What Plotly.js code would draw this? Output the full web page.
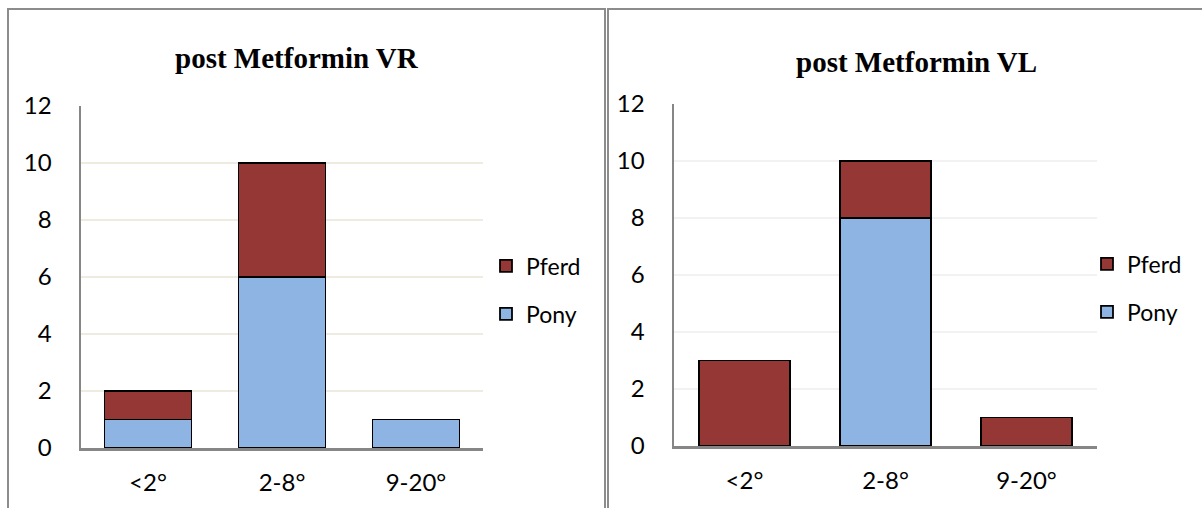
<!DOCTYPE html>
<html>
<head>
<meta charset="utf-8">
<script src="https://cdn.plot.ly/plotly-3.0.1.min.js"></script>
<style>
  html, body { margin: 0; padding: 0; background: #ffffff; }
  #chart { width: 1202px; height: 508px; }
</style>
</head>
<body>
<div id="chart"></div>
<script>
// Categories (angle classes) shared by both panels
const categories = ['<2°', '2-8°', '9-20°'];

// Panel VR
const vrPony  = [1, 6, 1];
const vrPferd = [1, 4, 0];

// Panel VL
const vlPony  = [0, 8, 0];
const vlPferd = [3, 2, 1];

const yTicks = [0, 2, 4, 6, 8, 10, 12];

const ponyColor  = '#8EB4E3';
const pferdColor = '#953735';
const barLine = { color: '#000000', width: 1.8 };
const tickFont = { family: 'Lato, "Open Sans", sans-serif', size: 24, color: '#000000' };

function bar(name, y, color, xa, ya, legend, rank) {
  return {
    type: 'bar', name: name, x: categories, y: y,
    xaxis: xa, yaxis: ya, legend: legend, legendrank: rank,
    legendgroup: name + '_' + legend,
    marker: { color: color, line: barLine },
    hoverinfo: 'x+y+name'
  };
}

const data = [
  bar('Pony',  vrPony,  ponyColor,  'x',  'y',  'legend',  2),
  bar('Pferd', vrPferd, pferdColor, 'x',  'y',  'legend',  1),
  bar('Pony',  vlPony,  ponyColor,  'x2', 'y2', 'legend2', 2),
  bar('Pferd', vlPferd, pferdColor, 'x2', 'y2', 'legend2', 1)
];

function xAxis(domain, anchor) {
  return {
    domain: domain, anchor: anchor, type: 'category',
    showline: true, linecolor: '#868686', linewidth: 2.5,
    ticks: '', tickfont: tickFont, ticklabelstandoff: 12,
    showgrid: false, zeroline: false, fixedrange: true
  };
}
function yAxis(domain, anchor, gridColor) {
  return {
    domain: domain, anchor: anchor, range: [0, 12],
    tickvals: yTicks, ticktext: yTicks.map(String),
    showline: true, linecolor: '#868686', linewidth: 2.5,
    ticks: '', tickfont: tickFont, ticklabelstandoff: 22,
    showgrid: true, gridcolor: gridColor, gridwidth: 1.5,
    zeroline: false, fixedrange: true
  };
}

const legendStyle = {
  font: { family: 'Lato, "Open Sans", sans-serif', size: 23, color: '#000000' },
  bgcolor: 'rgba(0,0,0,0)', traceorder: 'grouped',
  itemwidth: 30, tracegroupgap: 15, yanchor: 'middle', xanchor: 'left'
};

const titleFont = { family: '"Liberation Serif", "Times New Roman", serif', size: 29, color: '#000000', weight: 'bold' };

const layout = {
  width: 1202, height: 508,
  margin: { l: 0, r: 0, t: 0, b: 0 },
  paper_bgcolor: '#ffffff', plot_bgcolor: '#ffffff',
  barmode: 'stack', bargap: 0.35,
  showlegend: true,
  xaxis:  xAxis([81 / 1202, 483 / 1202], 'y'),
  yaxis:  yAxis([1 - 448 / 508, 1 - 106 / 508], 'x', '#EEECE1'),
  xaxis2: xAxis([674 / 1202, 1097 / 1202], 'y2'),
  yaxis2: yAxis([1 - 446 / 508, 1 - 104 / 508], 'x2', '#F2F2F2'),
  legend:  Object.assign({ x: 486 / 1202, y: 1 - 290 / 508 }, legendStyle),
  legend2: Object.assign({ x: 1087 / 1202, y: 1 - 288 / 508 }, legendStyle),
  annotations: [
    { text: 'post Metformin VR', xref: 'paper', yref: 'paper',
      x: 297 / 1202, y: 1 - 58 / 508, showarrow: false, font: titleFont,
      xanchor: 'center', yanchor: 'middle' },
    { text: 'post Metformin VL', xref: 'paper', yref: 'paper',
      x: 916 / 1202, y: 1 - 62 / 508, showarrow: false, font: titleFont,
      xanchor: 'center', yanchor: 'middle' }
  ],
  shapes: [
    // frame around the VR panel
    { type: 'path', xref: 'paper', yref: 'paper',
      path: 'M ' + (8 / 1202) + ',0 L ' + (8 / 1202) + ',' + (1 - 9 / 508) +
            ' L ' + (605 / 1202) + ',' + (1 - 9 / 508) + ' L ' + (605 / 1202) + ',0',
      line: { color: '#8C8C8C', width: 2 } },
    // frame around the VL panel
    { type: 'path', xref: 'paper', yref: 'paper',
      path: 'M ' + (608 / 1202) + ',0 L ' + (608 / 1202) + ',' + (1 - 9 / 508) +
            ' L 1.01,' + (1 - 9 / 508),
      line: { color: '#8C8C8C', width: 2 } }
  ]
};

Plotly.newPlot('chart', data, layout, { displayModeBar: false, staticPlot: true });
</script>
</body>
</html>
